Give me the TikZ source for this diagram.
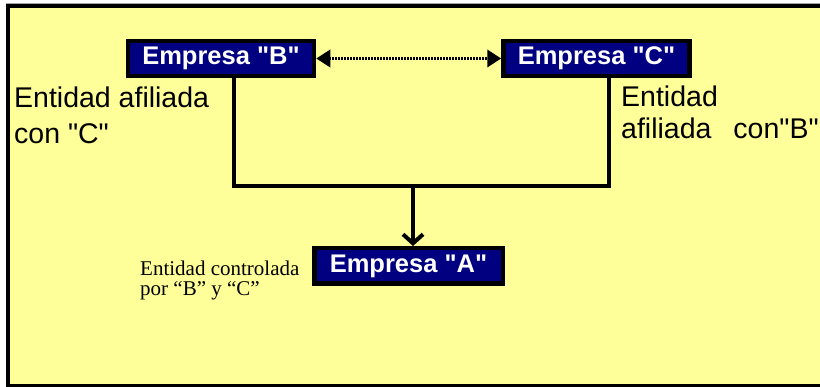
\documentclass[tikz,border=0pt]{standalone}
\usepackage{fontspec}
\setmainfont{Liberation Sans}
\newfontfamily\timesfont{Liberation Serif}
\usetikzlibrary{arrows.meta}
\definecolor{bgyellow}{HTML}{FFFF99}
\definecolor{boxnavy}{HTML}{000080}
\newcommand{\dq}{\textquotedbl}
\tikzset{
  empresa/.style={draw=black, line width=4.5pt, fill=boxnavy, text=white,
    font=\fontsize{25.5}{30}\selectfont\bfseries, inner sep=0pt,
    minimum height=35pt},
  label/.style={inner sep=0pt, anchor=north west, align=left},
  link/.style={line width=3.2pt},
}
\begin{document}
\begin{tikzpicture}[x=1pt,y=-1pt]
\useasboundingbox (0,0) rectangle (820,387);
\begin{scope}
\clip (0,0) rectangle (820,387);
% frame
\fill[white] (0,0) rectangle (830,387);
\fill[bgyellow] (8,6) rectangle (830,385);
\draw[gray!70, line width=1pt] (6,3.5) -- (830,3.5);
\draw[black, line width=3.5pt] (6,6) -- (830,6);
\draw[black, line width=4pt] (8,4.5) -- (8,387);
\draw[black, line width=3pt] (6,385.5) -- (830,385.5);
\end{scope}
% boxes
\node[empresa, minimum width=186pt] (B) at (221,58.5) {Empresa \dq B\dq};
\node[empresa, minimum width=186pt] (C) at (596.5,58.5) {Empresa \dq C\dq};
\node[empresa, minimum width=188.5pt, minimum height=35.5pt] (A) at (408.5,266) {Empresa \dq A\dq};
% labels
\node[label, font=\fontsize{28.5}{36}\selectfont] (lb) at (14,86.5) {Entidad afiliada\\con \dq C\dq};
\node[label, font=\fontsize{28.5}{32}\selectfont] (lc) at (621,85.5) {Entidad\\afiliada\hspace{22pt}con\dq B\dq};
\node[label, font=\timesfont\fontsize{21}{20.5}\selectfont] (la) at (140,260.7) {Entidad controlada\\por “B” y “C”};
% connectors
\draw[line width=3.8pt, dash pattern=on 2pt off 1pt,
  {Triangle[length=14pt,width=17pt]}-{Triangle[length=14pt,width=17pt]}]
  (B.east) -- (C.west);
\coordinate (jl) at (234,186);
\coordinate (jr) at (609,186);
\coordinate (jm) at (413,186);
\draw[link] (B.south -| jl) -- (jl) -- (jr) -- ([yshift=4pt]C.south -| jr);
\draw[line width=4pt, -{Straight Barb[length=9pt,width=20pt]}] (jm) -- (A.north -| jm);
\end{tikzpicture}
\end{document}
